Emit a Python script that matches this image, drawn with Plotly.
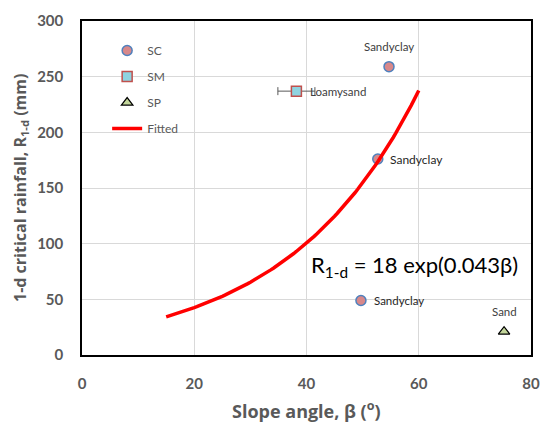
import numpy as np
import plotly.graph_objects as go

# Observed slope angles (deg) and 1-day critical rainfall (mm) by soil group
sc_beta = [54.7, 52.7, 49.7]
sc_r = [259, 176, 49]
sc_text = ["Sandyclay", "Sandyclay", "Sandyclay"]

sm_beta = [38.2]
sm_r = [237]
sm_err = [3.3]
sm_text = ["Loamysand"]

sp_beta = [75.2]
sp_r = [21]
sp_text = ["Sand"]

# Fitted relation R = a * exp(b * beta)
fit_a = 18
fit_b = 0.043
fit_range = [15, 60]

x_ticks = [0, 20, 40, 60, 80]
y_ticks = [0, 50, 100, 150, 200, 250, 300]

FONT = "Lato, Liberation Sans, sans-serif"
TITLE_FONT = "Open Sans, Lato, sans-serif"
GREY = "#595959"

beta_fit = np.linspace(fit_range[0], fit_range[1], 100)
r_fit = fit_a * np.exp(fit_b * beta_fit)

fig = go.Figure()

fig.add_trace(go.Scatter(
    x=sc_beta, y=sc_r, mode="markers", name="SC", legendgroup="sc",
    marker=dict(symbol="circle", size=10, color="#d8888a",
                line=dict(color="#4f81bd", width=1.5)),
))
fig.add_trace(go.Scatter(
    x=sm_beta, y=sm_r, mode="markers", name="SM", legendgroup="sm",
    marker=dict(symbol="square", size=10, color="#8fd3e0",
                line=dict(color="#c0504d", width=1.5)),
    error_x=dict(type="data", array=sm_err, color="#595959", thickness=1, width=4),
))
fig.add_trace(go.Scatter(
    x=sp_beta, y=sp_r, mode="markers", name="SP", legendgroup="sp",
    marker=dict(symbol="triangle-up", size=10, color="#c3d69b",
                line=dict(color="#000000", width=1.2)),
))
fig.add_trace(go.Scatter(
    x=beta_fit, y=r_fit, mode="lines", name="Fitted", legendgroup="fit",
    line=dict(color="#ff0000", width=3.5),
))

# Soil type labels beside points
label_font = dict(family=FONT, size=11.5, color="#404040")
fig.add_annotation(x=sc_beta[0], y=sc_r[0], text=sc_text[0], showarrow=False,
                   yshift=20, font=label_font)
fig.add_annotation(x=sc_beta[1], y=sc_r[1], text=sc_text[1], showarrow=False,
                   xanchor="left", xshift=10, font=dict(family=FONT, size=12, color="#262626"))
fig.add_annotation(x=sc_beta[2], y=sc_r[2], text=sc_text[2], showarrow=False,
                   xanchor="left", xshift=11, font=dict(family=FONT, size=11.5, color="#262626"))
fig.add_annotation(x=sm_beta[0], y=sm_r[0], text=sm_text[0], showarrow=False,
                   xanchor="left", xshift=12, font=label_font)
fig.add_annotation(x=sp_beta[0], y=sp_r[0], text=sp_text[0], showarrow=False,
                   yshift=20, font=label_font)

fig.add_annotation(x=0.505, y=0.215, xref="paper", yref="paper",
                   text=f"R<sub>1-d</sub> = {fit_a} exp({fit_b}β)",
                   showarrow=False, xanchor="left",
                   font=dict(family=FONT, size=22, color="#000000"))

# Axis titles
title_font = dict(family=TITLE_FONT, size=17, color=GREY, weight=700)
fig.add_annotation(x=0.5, y=0, xref="paper", yref="paper", yshift=-55,
                   text="Slope angle, β (<sup>o</sup>)", showarrow=False,
                   xanchor="center", yanchor="middle",
                   font=dict(family=TITLE_FONT, size=18, color=GREY, weight=700))
fig.add_annotation(x=0, y=0.5, xref="paper", yref="paper", xshift=-62,
                   text="1-d critical rainfall, R<sub>1-d</sub> (mm)", showarrow=False,
                   textangle=-90, xanchor="center", yanchor="middle",
                   font=dict(family=TITLE_FONT, size=16, color=GREY, weight=700))

fig.update_layout(
    width=542, height=423,
    margin=dict(l=82, r=11, t=21, b=68, autoexpand=False),
    paper_bgcolor="white", plot_bgcolor="white",
    font=dict(family=FONT, color=GREY),
    showlegend=True,
    legend=dict(x=0.056, y=0.955, xanchor="left", yanchor="top",
                bgcolor="rgba(0,0,0,0)", tracegroupgap=7,
                font=dict(family=FONT, size=12, color=GREY)),
    xaxis=dict(range=[0, 80], tickvals=x_ticks, showgrid=True, gridcolor="#d9d9d9",
               zeroline=False, showline=True, linecolor="black", linewidth=1.5, mirror=True,
               ticks="", ticklabelstandoff=14, automargin=False,
               tickfont=dict(family=FONT, size=15, color=GREY, weight="bold")),
    yaxis=dict(range=[0, 300], tickvals=y_ticks, showgrid=True, gridcolor="#d9d9d9",
               zeroline=False, showline=True, linecolor="black", linewidth=1.5, mirror=True,
               ticks="", ticklabelstandoff=14, automargin=False,
               tickfont=dict(family=FONT, size=15, color=GREY, weight="bold")),
)

fig.write_html("out.html")
